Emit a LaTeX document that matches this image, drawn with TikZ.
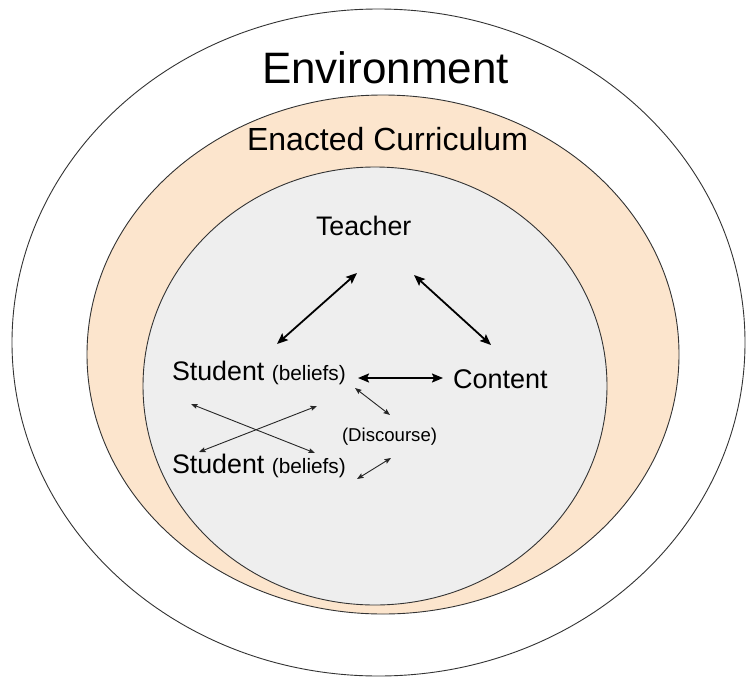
\documentclass[tikz,border=0pt]{standalone}
\usepackage{fontspec}
\setmainfont{Liberation Sans}
\usetikzlibrary{arrows.meta}
\definecolor{peach}{HTML}{FCE5CD}
\definecolor{lgray}{HTML}{EEEEEE}
\definecolor{edgec}{HTML}{333333}
\tikzset{
  ring/.style={draw=edgec, line width=0.9pt},
  lbl/.style={anchor=base west, inner sep=0pt, outer sep=0pt, text=black},
  bigarrow/.style={line width=1.8pt, black, {Stealth[length=11pt,width=9pt,inset=2pt]}-{Stealth[length=11pt,width=9pt,inset=2pt]}},
  smallarrow/.style={line width=0.9pt, black!85, {Stealth[length=6.5pt,width=5pt,inset=1pt]}-{Stealth[length=6.5pt,width=5pt,inset=1pt]}}
}
\begin{document}
\begin{tikzpicture}[x=1pt,y=-1pt]
\useasboundingbox (0,0) rectangle (746,677);
\fill[white] (0,0) rectangle (746,677);
% rings
\draw[ring, fill=white] (378.5,342.5) ellipse [x radius=366.5pt, y radius=333.5pt];
\draw[ring, fill=peach] (383,354.5) ellipse [x radius=296pt, y radius=259.5pt];
\draw[ring, fill=lgray] (375,386) ellipse [x radius=232pt, y radius=219pt];
% labels
\node[lbl, font=\fontsize{44}{50}\selectfont] (env) at (262,83) {Environment};
\node[lbl, font=\fontsize{32}{38}\selectfont] (enact) at (247,150) {Enacted Curriculum};
\node[lbl, font=\fontsize{26.8}{30}\selectfont] (teacher) at (316,235) {Teacher};
\node[lbl, font=\fontsize{27}{30}\selectfont] (content) at (453,388) {Content};
\node[lbl, font=\fontsize{26.8}{30}\selectfont] (s1) at (172,380) {Student {\fontsize{20.8}{24}\selectfont(beliefs)}};
\node[lbl, font=\fontsize{26.8}{30}\selectfont] (s2) at (172,473) {Student {\fontsize{20.8}{24}\selectfont(beliefs)}};
\node[lbl, font=\fontsize{18.6}{22}\selectfont] (disc) at (342,441) {(Discourse)};
% arrow end points
\coordinate (tsA) at (357,273);
\coordinate (tsB) at (277,344);
\coordinate (tcA) at (414,275);
\coordinate (tcB) at (491,345);
\coordinate (scA) at (358,378);
\coordinate (scB) at (443,378);
\coordinate (sdA) at (355,388);
\coordinate (sdB) at (390,415);
\coordinate (xaA) at (191,404);
\coordinate (xaB) at (315,453);
\coordinate (xbA) at (199,452);
\coordinate (xbB) at (317,406);
\coordinate (s2dA) at (357,479);
\coordinate (s2dB) at (391,458);
% arrows
\draw[bigarrow] (tsA) -- (tsB);
\draw[bigarrow] (tcA) -- (tcB);
\draw[bigarrow] (scA) -- (scB);
\draw[smallarrow] (sdA) -- (sdB);
\draw[smallarrow] (xaA) -- (xaB);
\draw[smallarrow] (xbA) -- (xbB);
\draw[smallarrow] (s2dA) -- (s2dB);
\end{tikzpicture}
\end{document}
